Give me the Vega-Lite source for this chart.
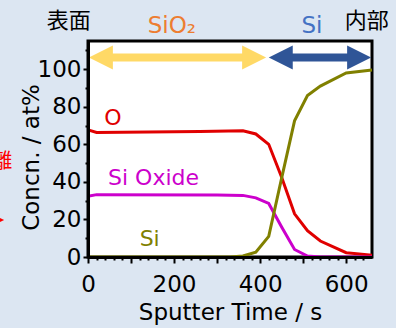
{
  "$schema": "https://vega.github.io/schema/vega-lite/v6.json",
  "width": 284,
  "height": 216,
  "autosize": {"type": "none"},
  "padding": {"left": 88, "top": 41, "right": 24, "bottom": 71},
  "background": "#dce6f2",
  "view": {"fill": "white", "stroke": "black", "strokeWidth": 3},
  "config": {"font": "DejaVu Sans"},
  "datasets": {
    "profile": [
      {"t": 0, "v": 67.7, "s": "O"}, {"t": 20, "v": 66.3, "s": "O"}, {"t": 260, "v": 66.8, "s": "O"}, {"t": 360, "v": 67.2, "s": "O"},
      {"t": 390, "v": 65.5, "s": "O"}, {"t": 420, "v": 60, "s": "O"}, {"t": 450, "v": 42.5, "s": "O"}, {"t": 480, "v": 23, "s": "O"},
      {"t": 510, "v": 14, "s": "O"}, {"t": 540, "v": 8.5, "s": "O"}, {"t": 600, "v": 2.3, "s": "O"}, {"t": 660, "v": 1, "s": "O"},
      {"t": 0, "v": 32.3, "s": "Si Oxide"}, {"t": 20, "v": 33.2, "s": "Si Oxide"}, {"t": 300, "v": 33, "s": "Si Oxide"}, {"t": 360, "v": 32.8, "s": "Si Oxide"},
      {"t": 390, "v": 31.5, "s": "Si Oxide"}, {"t": 420, "v": 28.5, "s": "Si Oxide"}, {"t": 450, "v": 16, "s": "Si Oxide"}, {"t": 480, "v": 4, "s": "Si Oxide"},
      {"t": 510, "v": 0.5, "s": "Si Oxide"}, {"t": 540, "v": 0, "s": "Si Oxide"}, {"t": 660, "v": 0, "s": "Si Oxide"},
      {"t": 0, "v": 0, "s": "Si"}, {"t": 330, "v": 0, "s": "Si"}, {"t": 360, "v": 0.5, "s": "Si"}, {"t": 390, "v": 2.5, "s": "Si"},
      {"t": 420, "v": 11, "s": "Si"}, {"t": 450, "v": 42, "s": "Si"}, {"t": 480, "v": 72.5, "s": "Si"}, {"t": 510, "v": 86, "s": "Si"},
      {"t": 540, "v": 91, "s": "Si"}, {"t": 600, "v": 98, "s": "Si"}, {"t": 660, "v": 99.5, "s": "Si"}
    ],
    "names": [
      {"t": 38, "v": 70.3, "s": "O"},
      {"t": 46.5, "v": 38.3, "s": "Si Oxide"},
      {"t": 120, "v": 5.9, "s": "Si"}
    ],
    "regions": [
      {"r": "SiO₂", "x1": 2, "x2": 414, "y": 106.2},
      {"r": "Si", "x1": 420, "x2": 658, "y": 106.2}
    ],
    "regionLabels": [
      {"r": "SiO₂", "t": 195, "v": 119.3},
      {"r": "Si", "t": 520.6, "v": 119.3}
    ],
    "sides": [
      {"text": "表面", "t": -45, "v": 121.9},
      {"text": "内部", "t": 648, "v": 121.9}
    ],
    "clipped": [
      {"text": "離", "t": -199, "v": 47.4}
    ],
    "tip": [
      {"t": -203, "v": 19.7}
    ]
  },
  "resolve": {"scale": {"color": "independent"}, "axis": {"x": "independent", "y": "independent"}},
  "layer": [
    {
      "data": {"name": "profile"},
      "mark": {"type": "line", "strokeWidth": 3},
      "encoding": {
        "x": {
          "field": "t", "type": "quantitative",
          "scale": {"domain": [0, 660], "nice": false, "zero": false},
          "axis": {
            "orient": "bottom",
            "title": "Sputter Time / s",
            "values": [0, 100, 200, 300, 400, 500, 600],
            "labelExpr": "datum.value % 200 === 0 ? datum.label : ''",
            "tickSize": 6, "tickWidth": 2, "tickColor": "black",
            "domainColor": "black", "domainWidth": 3,
            "labelFontSize": 23, "labelColor": "black", "labelPadding": 10,
            "labelOverlap": false, "labelFlush": false,
            "titleFontSize": 23, "titleFontWeight": "normal", "titleColor": "black", "titlePadding": 5,
            "grid": false, "zindex": 1
          }
        },
        "y": {
          "field": "v", "type": "quantitative",
          "scale": {"domain": [0, 115], "nice": false},
          "axis": {
            "orient": "left",
            "title": "Concn. / at%",
            "values": [0, 20, 40, 60, 80, 100],
            "tickSize": 5, "tickWidth": 2, "tickColor": "black",
            "domainColor": "black", "domainWidth": 3,
            "labelFontSize": 23, "labelColor": "black", "labelPadding": 2,
            "labelOverlap": false, "labelFlush": false,
            "titleFontSize": 23, "titleFontWeight": "normal", "titleColor": "black",
            "titleX": -50, "titleY": 116, "titleBaseline": "alphabetic", "titleAlign": "center", "titleAngle": 270,
            "grid": false, "zindex": 1
          }
        },
        "color": {
          "field": "s", "type": "nominal",
          "scale": {"domain": ["O", "Si Oxide", "Si"], "range": ["#e00000", "#cc00cc", "#808000"]},
          "legend": null
        }
      }
    },
    {
      "data": {"name": "profile"},
      "mark": {"type": "line", "strokeOpacity": 0},
      "encoding": {
        "x": {
          "field": "t", "type": "quantitative",
          "axis": {
            "orient": "bottom", "title": null, "labels": false, "domain": false,
            "values": [20,40,60,80,120,140,160,180,220,240,260,280,320,340,360,380,420,440,460,480,520,540,560,580,620,640],
            "tickSize": 3, "tickWidth": 2, "tickColor": "black",
            "grid": false, "zindex": 1
          }
        },
        "y": {
          "field": "v", "type": "quantitative",
          "axis": {
            "orient": "left", "title": null, "labels": false, "domain": false,
            "values": [10, 30, 50, 70, 90, 110],
            "tickSize": 3, "tickWidth": 2, "tickColor": "black",
            "grid": false, "zindex": 1
          }
        },
        "detail": {"field": "s"}
      }
    },
    {
      "data": {"name": "names"},
      "mark": {"type": "text", "fontSize": 22, "align": "left", "baseline": "alphabetic"},
      "encoding": {
        "x": {"field": "t", "type": "quantitative", "axis": null},
        "y": {"field": "v", "type": "quantitative", "axis": null},
        "text": {"field": "s"},
        "color": {
          "field": "s", "type": "nominal",
          "scale": {"domain": ["O", "Si Oxide", "Si"], "range": ["#e00000", "#cc00cc", "#808000"]},
          "legend": null
        }
      }
    },
    {
      "data": {"name": "regions"},
      "mark": {"type": "rule", "strokeWidth": 8, "xOffset": 12, "x2Offset": -12},
      "encoding": {
        "x": {"field": "x1", "type": "quantitative", "axis": null},
        "x2": {"field": "x2"},
        "y": {"field": "y", "type": "quantitative", "axis": null},
        "color": {"field": "r", "type": "nominal", "scale": {"domain": ["SiO₂", "Si"], "range": ["#ffd966", "#2f5597"]}, "legend": null}
      }
    },
    {
      "data": {"name": "regions"},
      "mark": {"type": "point", "shape": "M1,-1L-1,0L1,1Z", "size": 576, "filled": true, "opacity": 1, "strokeWidth": 0, "xOffset": 12},
      "encoding": {
        "x": {"field": "x1", "type": "quantitative", "axis": null},
        "y": {"field": "y", "type": "quantitative", "axis": null},
        "color": {"field": "r", "type": "nominal", "scale": {"domain": ["SiO₂", "Si"], "range": ["#ffd966", "#2f5597"]}, "legend": null}
      }
    },
    {
      "data": {"name": "regions"},
      "mark": {"type": "point", "shape": "M-1,-1L1,0L-1,1Z", "size": 576, "filled": true, "opacity": 1, "strokeWidth": 0, "xOffset": -12},
      "encoding": {
        "x": {"field": "x2", "type": "quantitative", "axis": null},
        "y": {"field": "y", "type": "quantitative", "axis": null},
        "color": {"field": "r", "type": "nominal", "scale": {"domain": ["SiO₂", "Si"], "range": ["#ffd966", "#2f5597"]}, "legend": null}
      }
    },
    {
      "data": {"name": "regionLabels"},
      "mark": {"type": "text", "fontSize": 23, "align": "center", "baseline": "alphabetic"},
      "encoding": {
        "x": {"field": "t", "type": "quantitative", "axis": null},
        "y": {"field": "v", "type": "quantitative", "axis": null},
        "text": {"field": "r"},
        "color": {"field": "r", "type": "nominal", "scale": {"domain": ["SiO₂", "Si"], "range": ["#ed7d31", "#4472c4"]}, "legend": null}
      }
    },
    {
      "data": {"name": "sides"},
      "mark": {"type": "text", "font": "Noto Sans CJK JP", "fontSize": 22, "align": "center", "baseline": "alphabetic", "color": "black"},
      "encoding": {
        "x": {"field": "t", "type": "quantitative", "axis": null},
        "y": {"field": "v", "type": "quantitative", "axis": null},
        "text": {"field": "text"}
      }
    },
    {
      "data": {"name": "clipped"},
      "mark": {"type": "text", "font": "Noto Sans CJK JP", "fontSize": 20, "align": "center", "baseline": "alphabetic", "color": "#ff0000"},
      "encoding": {
        "x": {"field": "t", "type": "quantitative", "axis": null},
        "y": {"field": "v", "type": "quantitative", "axis": null},
        "text": {"field": "text"}
      }
    },
    {
      "data": {"name": "tip"},
      "mark": {"type": "point", "shape": "M-1,-1L1,0L-1,1Z", "size": 49, "filled": true, "opacity": 1, "strokeWidth": 0, "color": "#ff0000"},
      "encoding": {
        "x": {"field": "t", "type": "quantitative", "axis": null},
        "y": {"field": "v", "type": "quantitative", "axis": null}
      }
    }
  ]
}
